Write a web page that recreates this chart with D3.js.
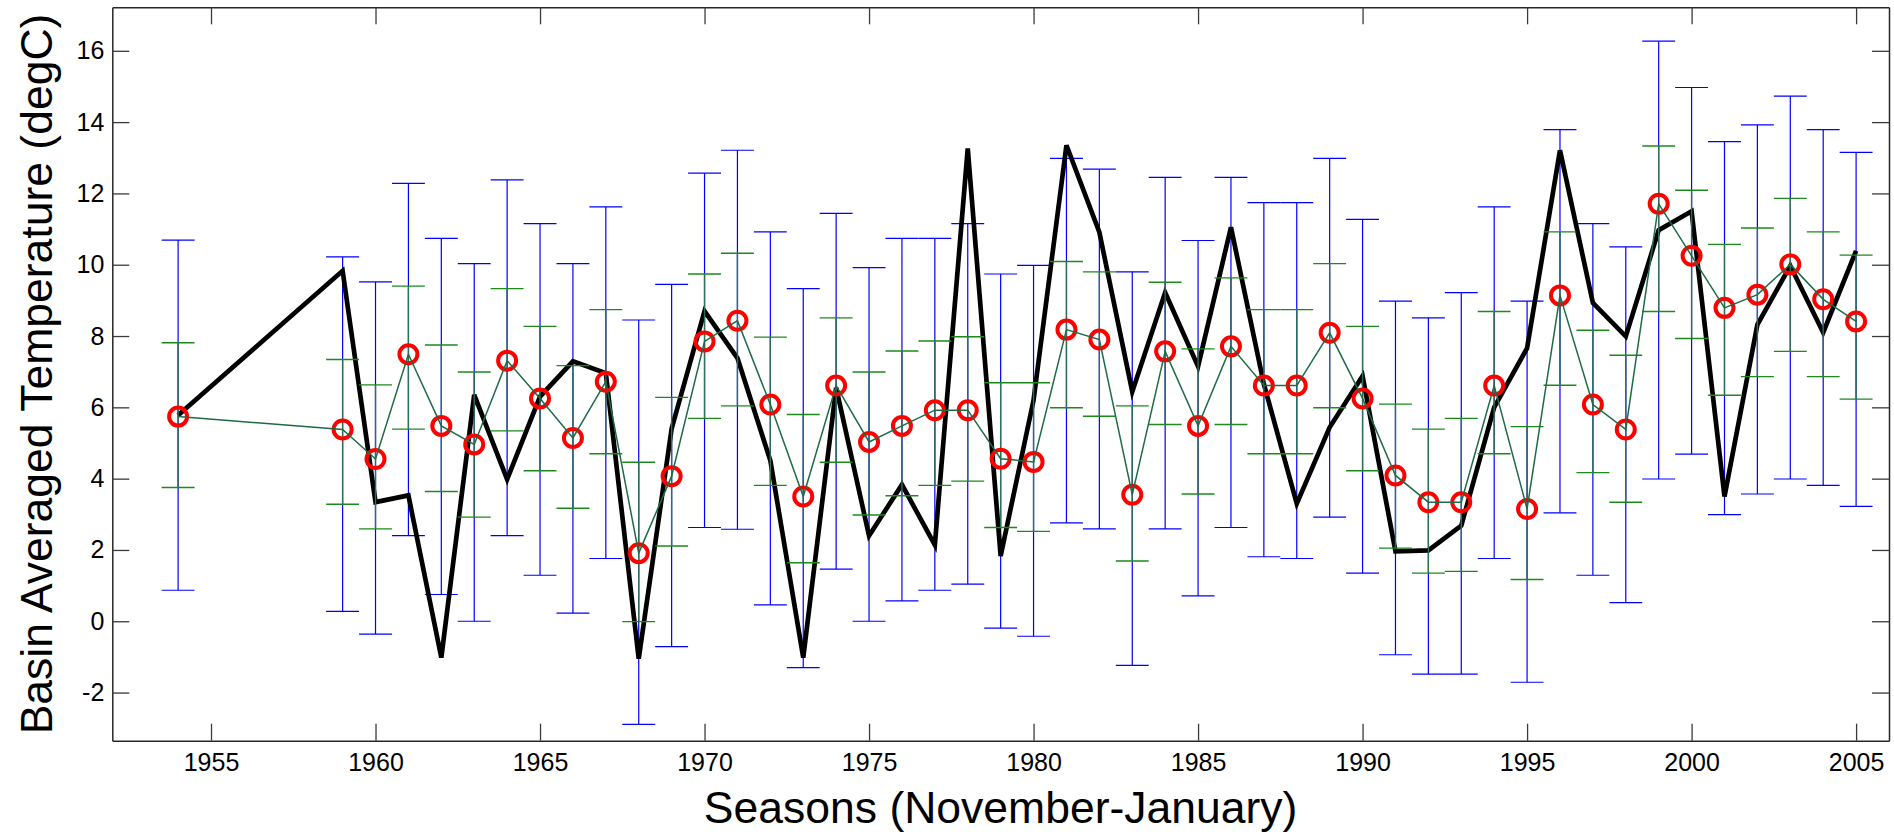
<!DOCTYPE html>
<html>
<head>
<meta charset="utf-8">
<script src="https://cdn.jsdelivr.net/npm/d3@7"></script>
<style>
  html, body { margin: 0; padding: 0; background: #fff; }
  svg { display: block; font-family: "Liberation Sans", Arial, sans-serif; }
</style>
</head>
<body>
<svg id="chart" width="1894" height="835"></svg>
<script>
// seasons (Nov-Jan), first one is 1954, then 1959..2005
const years = [1954, 1959, 1960, 1961, 1962, 1963, 1964, 1965, 1966, 1967, 1968, 1969,
  1970, 1971, 1972, 1973, 1974, 1975, 1976, 1977, 1978, 1979, 1980, 1981, 1982, 1983,
  1984, 1985, 1986, 1987, 1988, 1989, 1990, 1991, 1992, 1993, 1994, 1995, 1996, 1997,
  1998, 1999, 2000, 2001, 2002, 2003, 2004, 2005];

// observed basin temperature (thick black line)
const observed = [5.78, 9.83, 3.34, 3.53, -1.02, 6.35, 3.98, 6.3, 7.29, 6.96, -1.05, 5.4,
  8.70, 7.38, 4.51, -1.02, 6.55, 2.40, 3.83, 2.14, 13.26, 1.83, 6.2, 13.35, 10.91, 6.44,
  9.22, 7.15, 11.05, 6.65, 3.30, 5.44, 6.88, 1.96, 1.99, 2.68, 6.0, 7.66, 13.21, 8.93,
  7.99, 10.97, 11.50, 3.50, 8.32, 9.97, 8.10, 10.39];

// ensemble mean (red circles, green line)
const ensMean = [5.74, 5.38, 4.55, 7.49, 5.48, 4.96, 7.31, 6.25, 5.14, 6.72, 1.91, 4.07,
  7.85, 8.43, 6.08, 3.50, 6.61, 5.03, 5.48, 5.92, 5.92, 4.56, 4.47, 8.18, 7.90, 3.55,
  7.57, 5.48, 7.71, 6.61, 6.61, 8.09, 6.25, 4.09, 3.34, 3.34, 6.61, 3.15, 9.14, 6.08,
  5.38, 11.71, 10.25, 8.79, 9.16, 10.01, 9.03, 8.41];

// inner spread (green error bars)
const stdLow = [3.75, 3.28, 2.59, 5.39, 3.64, 2.92, 5.34, 4.22, 3.17, 4.70, -0.01, 2.11,
  5.69, 6.04, 3.81, 1.64, 4.46, 2.98, 3.52, 3.81, 3.93, 2.63, 2.52, 5.99, 5.75, 1.69,
  5.52, 3.57, 5.52, 4.70, 4.70, 5.99, 4.22, 2.05, 1.35, 1.40, 4.70, 1.17, 6.62, 4.17,
  3.34, 8.69, 7.93, 6.34, 6.86, 7.57, 6.86, 6.23];
const stdHigh = [7.81, 7.34, 6.63, 9.40, 7.75, 6.99, 9.33, 8.27, 7.17, 8.74, 4.46, 6.28,
  9.74, 10.32, 7.97, 5.80, 8.51, 6.99, 7.58, 7.86, 7.98, 6.69, 6.69, 10.09, 9.80, 6.04,
  9.51, 7.64, 9.63, 8.74, 8.74, 10.03, 8.27, 6.09, 5.39, 5.69, 8.69, 5.46, 10.92, 8.16,
  7.46, 13.33, 12.09, 10.57, 11.03, 11.86, 10.92, 10.27];

// full range (blue error bars)
const rangeLow = [0.87, 0.28, -0.36, 2.40, 0.75, 0.00, 2.40, 1.29, 0.23, 1.76, -2.89, -0.71,
  2.63, 2.58, 0.46, -1.30, 1.46, 0.00, 0.57, 0.87, 1.04, -0.19, -0.42, 2.76, 2.59, -1.24,
  2.59, 0.71, 2.63, 1.81, 1.76, 2.92, 1.35, -0.94, -1.48, -1.48, 1.76, -1.71, 3.04, 1.29,
  0.52, 3.99, 4.69, 2.99, 3.57, 3.99, 3.81, 3.22];
const rangeHigh = [10.69, 10.22, 9.52, 12.28, 10.74, 10.03, 12.38, 11.15, 10.03, 11.62, 8.45, 9.45,
  12.57, 13.21, 10.92, 9.33, 11.44, 9.92, 10.74, 10.74, 11.15, 9.74, 9.98, 12.98, 12.68, 9.80,
  12.45, 10.68, 12.45, 11.74, 11.74, 12.98, 11.27, 8.98, 8.51, 9.22, 11.62, 8.98, 13.79, 11.15,
  10.50, 16.27, 14.97, 13.45, 13.92, 14.73, 13.79, 13.15];

const xTicks = [1955, 1960, 1965, 1970, 1975, 1980, 1985, 1990, 1995, 2000, 2005];
const yTicks = [-2, 0, 2, 4, 6, 8, 10, 12, 14, 16];

let margin = { left: 112.3, right: 1889, top: 7.3, bottom: 740.7 };

let x = d3.scaleLinear().domain([1952, 2006]).range([margin.left, margin.right]);
let y = d3.scaleLinear().domain([-3.35, 17.22]).range([margin.bottom, margin.top]);

let svg = d3.select("#chart");

let rows = years.map((yr, i) => ({
  year: yr, obs: observed[i], mean: ensMean[i],
  sLo: stdLow[i], sHi: stdHigh[i], rLo: rangeLow[i], rHi: rangeHigh[i]
}));

// caps are one year wide, like matlab errorbar at this density
let capHalf = (x(1953) - x(1952)) / 2;

let plot = svg.append("g");

// blue range bars
let blue = plot.append("g").attr("stroke", "#0000ff").attr("stroke-width", 1.2).attr("fill", "none");
blue.selectAll("line.v").data(rows).enter().append("line")
  .attr("x1", d => x(d.year)).attr("x2", d => x(d.year))
  .attr("y1", d => y(d.rLo)).attr("y2", d => y(d.rHi));
blue.selectAll("line.lo").data(rows).enter().append("line")
  .attr("x1", d => x(d.year) - capHalf).attr("x2", d => x(d.year) + capHalf)
  .attr("y1", d => y(d.rLo)).attr("y2", d => y(d.rLo));
blue.selectAll("line.hi").data(rows).enter().append("line")
  .attr("x1", d => x(d.year) - capHalf).attr("x2", d => x(d.year) + capHalf)
  .attr("y1", d => y(d.rHi)).attr("y2", d => y(d.rHi));

// observed line
let line = d3.line().x(d => x(d.year));
plot.append("path")
  .datum(rows)
  .attr("d", line.y(d => y(d.obs)))
  .attr("fill", "none")
  .attr("stroke", "#000")
  .attr("stroke-width", 4.7)
  .attr("stroke-linejoin", "miter");

// green spread bars
let green = plot.append("g").attr("fill", "none");
green.selectAll("line.v").data(rows).enter().append("line")
  .attr("x1", d => x(d.year)).attr("x2", d => x(d.year))
  .attr("y1", d => y(d.sLo)).attr("y2", d => y(d.sHi))
  .attr("stroke", "#2f6e5c").attr("stroke-width", 1.4);
green.selectAll("line.lo").data(rows).enter().append("line")
  .attr("x1", d => x(d.year) - capHalf).attr("x2", d => x(d.year) + capHalf)
  .attr("y1", d => y(d.sLo)).attr("y2", d => y(d.sLo))
  .attr("stroke", "#1b8a1b").attr("stroke-width", 1.4);
green.selectAll("line.hi").data(rows).enter().append("line")
  .attr("x1", d => x(d.year) - capHalf).attr("x2", d => x(d.year) + capHalf)
  .attr("y1", d => y(d.sHi)).attr("y2", d => y(d.sHi))
  .attr("stroke", "#1b8a1b").attr("stroke-width", 1.4);

// ensemble mean markers
plot.selectAll("circle.mean").data(rows).enter().append("circle")
  .attr("cx", d => x(d.year))
  .attr("cy", d => y(d.mean))
  .attr("r", 9)
  .attr("fill", "none")
  .attr("stroke", "#ff0000")
  .attr("stroke-width", 4);

// ensemble mean line over the markers
plot.append("path")
  .datum(rows)
  .attr("d", d3.line().x(d => x(d.year)).y(d => y(d.mean)))
  .attr("fill", "none")
  .attr("stroke", "#1f6b45")
  .attr("stroke-width", 1.5);

// axes, ticks pointing inward on all four sides
let tickLen = 17;
let styleAxis = function (g) {
  g.select(".domain").attr("stroke", "#262626").attr("stroke-width", 1.5);
  g.selectAll(".tick line").attr("stroke", "#3a3a3a").attr("stroke-width", 1.3);
  g.selectAll(".tick text").attr("fill", "#000").attr("font-size", "25px")
    .attr("font-family", "'Liberation Sans', Arial, sans-serif");
};

// plain hyphen for negatives, as in the original figure
let plainNum = d => String(d);

svg.append("g")
  .attr("transform", `translate(0,${margin.bottom})`)
  .call(d3.axisBottom(x).tickValues(xTicks).tickFormat(plainNum)
    .tickSizeInner(-tickLen).tickSizeOuter(0).tickPadding(13))
  .call(styleAxis);

svg.append("g")
  .attr("transform", `translate(0,${margin.top})`)
  .call(d3.axisTop(x).tickValues(xTicks).tickFormat("")
    .tickSizeInner(-tickLen).tickSizeOuter(0))
  .call(styleAxis);

svg.append("g")
  .attr("transform", `translate(${margin.left},0)`)
  .call(d3.axisLeft(y).tickValues(yTicks).tickFormat(plainNum)
    .tickSizeInner(-tickLen).tickSizeOuter(0).tickPadding(8))
  .call(styleAxis);

svg.append("g")
  .attr("transform", `translate(${margin.right},0)`)
  .call(d3.axisRight(y).tickValues(yTicks).tickFormat("")
    .tickSizeInner(-tickLen).tickSizeOuter(0))
  .call(styleAxis);

// axis titles
svg.append("text")
  .attr("x", (margin.left + margin.right) / 2)
  .attr("y", 823)
  .attr("text-anchor", "middle")
  .attr("font-size", "44.5px")
  .attr("fill", "#000")
  .text("Seasons (November-January)");

svg.append("text")
  .attr("transform", `translate(52,${(margin.top + margin.bottom) / 2}) rotate(-90)`)
  .attr("text-anchor", "middle")
  .attr("font-size", "44.5px")
  .attr("fill", "#000")
  .text("Basin Averaged Temperature (degC)");
</script>
</body>
</html>
